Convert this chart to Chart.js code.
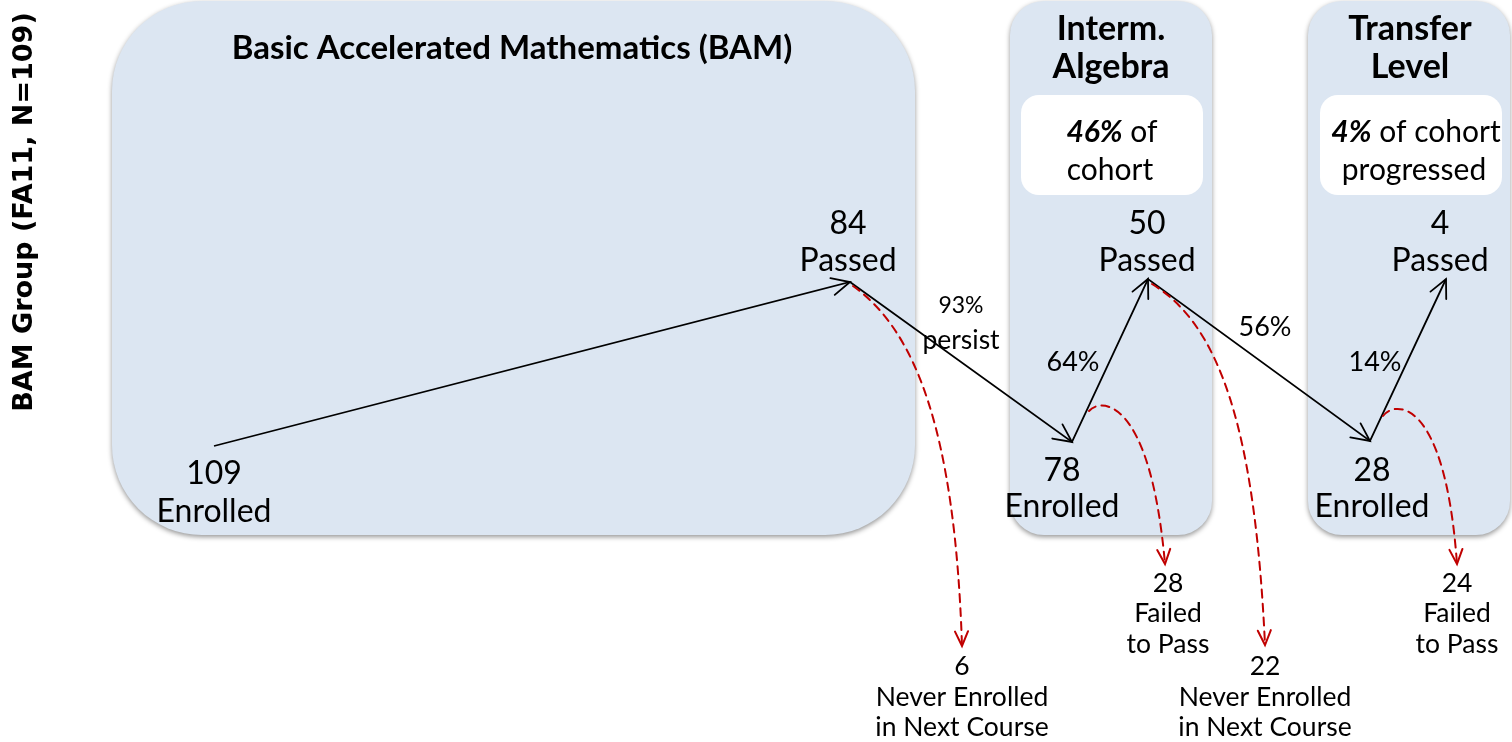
<!DOCTYPE html>
<html>
<head>
<meta charset="utf-8">
<script src="https://cdn.jsdelivr.net/npm/chart.js@4.4.1/dist/chart.umd.min.js"></script>
<style>
    html, body { margin: 0; padding: 0; background: #fff; }
</style>
</head>
<body>
<canvas id="flujo" width="1512" height="742"></canvas>
<script>
//DATOS DEL FLUJO DE LA COHORTE
var groupLabel = 'BAM Group (FA11, N=109)';
var stageTitles = [['Basic Accelerated Mathematics (BAM)'], ['Interm.', 'Algebra'], ['Transfer', 'Level']];
var enrolledCounts = [109, 78, 28];
var passedCounts = [84, 50, 4];
var passRates = ['', '64%', '14%'];
var persistRates = [['93%', 'persist'], ['56%']];
var neverEnrolledCounts = [6, 22];
var failedCounts = [28, 24];
var cohortShare = ['46%', '4%'];
var cohortText = [[' of', 'cohort'], [' of cohort', 'progressed']];

//POSICIONES (unidades de los ejes = pixeles del lienzo)
var enrolledXY = [[214, 446], [1072, 442], [1370, 441]];
var passedXY = [[850, 282], [1148, 279], [1446, 279]];
var stageBoxes = [[112, 1, 915, 535, 90], [1010, 1, 1212, 535, 34], [1308, 1, 1510, 535, 34]];
var cohortBoxes = [[1021, 95, 1203, 195, 18], [1320, 95, 1502, 195, 18]];
var dropCurves = [
    [[853, 286], [915, 330], [955, 430], [962, 646]],
    [[1152, 284], [1220, 325], [1255, 430], [1265, 645]],
    [[1089, 411], [1100, 398], [1150, 395], [1165, 564]],
    [[1383, 416], [1395, 400], [1445, 397], [1457, 564]]
];

var FONT = 'Lato, "Liberation Sans", sans-serif';

// puntos de la linea en zigzag: inscritos -> aprobados -> siguiente curso ...
var flowPoints = [];
enrolledXY.forEach(function (p, i) {
    flowPoints.push({ x: p[0], y: p[1] });
    flowPoints.push({ x: passedXY[i][0], y: passedXY[i][1] });
});

function roundRect(ctx, x0, y0, x1, y1, r) {
    ctx.beginPath();
    ctx.moveTo(x0 + r, y0);
    ctx.lineTo(x1 - r, y0);
    ctx.arcTo(x1, y0, x1, y0 + r, r);
    ctx.lineTo(x1, y1 - r);
    ctx.arcTo(x1, y1, x1 - r, y1, r);
    ctx.lineTo(x0 + r, y1);
    ctx.arcTo(x0, y1, x0, y1 - r, r);
    ctx.lineTo(x0, y0 + r);
    ctx.arcTo(x0, y0, x0 + r, y0, r);
    ctx.closePath();
}

function arrowHead(ctx, fromX, fromY, toX, toY, len, ang) {
    var a = Math.atan2(toY - fromY, toX - fromX);
    ctx.beginPath();
    ctx.moveTo(toX - len * Math.cos(a - ang), toY - len * Math.sin(a - ang));
    ctx.lineTo(toX, toY);
    ctx.lineTo(toX - len * Math.cos(a + ang), toY - len * Math.sin(a + ang));
    ctx.stroke();
}

function texto(ctx, str, x, y, font, align) {
    ctx.font = font;
    ctx.textAlign = align || 'center';
    ctx.textBaseline = 'middle';
    ctx.fillText(str, x, y);
}

var diagramaPlugin = {
    id: 'diagrama',
    beforeDatasetsDraw: function (chart) {
        var ctx = chart.ctx;
        var sx = chart.scales.x, sy = chart.scales.y;
        var px = function (v) { return sx.getPixelForValue(v); };
        var py = function (v) { return sy.getPixelForValue(v); };

        ctx.save();
        //cajas de las etapas con sombra
        stageBoxes.forEach(function (b) {
            ctx.save();
            ctx.shadowColor = 'rgba(0,0,0,0.42)';
            ctx.shadowBlur = 5;
            ctx.shadowOffsetX = 0;
            ctx.shadowOffsetY = 2;
            ctx.fillStyle = '#DCE6F2';
            roundRect(ctx, px(b[0]), py(b[1]), px(b[2]), py(b[3]), b[4]);
            ctx.fill();
            ctx.restore();
        });
        cohortBoxes.forEach(function (b) {
            ctx.fillStyle = '#ffffff';
            roundRect(ctx, px(b[0]), py(b[1]), px(b[2]), py(b[3]), b[4]);
            ctx.fill();
        });

        ctx.fillStyle = '#000';
        //titulos de las etapas
        texto(ctx, stageTitles[0][0], px(512), py(48), 'bold 33px ' + FONT);
        texto(ctx, stageTitles[1][0], px(1111), py(29), 'bold 34px ' + FONT);
        texto(ctx, stageTitles[1][1], px(1111), py(67), 'bold 34px ' + FONT);
        texto(ctx, stageTitles[2][0], px(1410), py(29), 'bold 34px ' + FONT);
        texto(ctx, stageTitles[2][1], px(1410), py(67), 'bold 34px ' + FONT);

        //porcentaje de la cohorte (parte en negrita cursiva)
        var centros = [1112, 1416];
        cohortShare.forEach(function (pct, i) {
            var fb = 'italic bold 30px ' + FONT;
            var fr = '30px ' + FONT;
            ctx.font = fb;
            var w1 = ctx.measureText(pct).width;
            ctx.font = fr;
            var w2 = ctx.measureText(cohortText[i][0]).width;
            var x0 = px(centros[i]) - (w1 + w2) / 2;
            texto(ctx, pct, x0, py(132), fb, 'left');
            texto(ctx, cohortText[i][0], x0 + w1, py(132), fr, 'left');
            texto(ctx, cohortText[i][1], px(centros[i] - 2), py(170), fr);
        });

        //etiqueta del grupo (vertical)
        ctx.save();
        ctx.translate(px(25), py(212));
        ctx.rotate(-Math.PI / 2);
        texto(ctx, groupLabel, 0, 0, 'bold 27px "DejaVu Sans", sans-serif');
        ctx.restore();
        ctx.restore();
    },
    afterDatasetsDraw: function (chart) {
        var ctx = chart.ctx;
        var sx = chart.scales.x, sy = chart.scales.y;
        var px = function (v) { return sx.getPixelForValue(v); };
        var py = function (v) { return sy.getPixelForValue(v); };
        var meta = chart.getDatasetMeta(0).data;

        ctx.save();
        //puntas de flecha del flujo principal
        ctx.strokeStyle = '#000';
        ctx.lineWidth = 1.8;
        ctx.lineCap = 'round';
        for (var i = 1; i < meta.length; i++) {
            arrowHead(ctx, meta[i - 1].x, meta[i - 1].y, meta[i].x, meta[i].y, 20, 0.45);
        }

        //curvas rojas punteadas (abandono / reprobados)
        ctx.strokeStyle = '#C00000';
        ctx.lineWidth = 2;
        dropCurves.forEach(function (c) {
            ctx.setLineDash([8, 6]);
            ctx.beginPath();
            ctx.moveTo(px(c[0][0]), py(c[0][1]));
            ctx.bezierCurveTo(px(c[1][0]), py(c[1][1]), px(c[2][0]), py(c[2][1]), px(c[3][0]), py(c[3][1]));
            ctx.stroke();
            ctx.setLineDash([]);
            arrowHead(ctx, px(c[2][0]), py(c[2][1]), px(c[3][0]), py(c[3][1]), 16, 0.42);
        });

        ctx.fillStyle = '#000';
        var f32 = '32px ' + FONT;
        //inscritos
        var enrolledLbl = [[214, 474, 512], [1062, 471, 507], [1372, 471, 507]];
        enrolledCounts.forEach(function (n, i) {
            var l = enrolledLbl[i];
            texto(ctx, String(n), px(l[0]), py(l[1]), f32);
            texto(ctx, 'Enrolled', px(l[0]), py(l[2]), f32);
        });
        //aprobados
        var passedLbl = [848, 1147, 1440];
        passedCounts.forEach(function (n, i) {
            texto(ctx, String(n), px(passedLbl[i]), py(224), f32);
            texto(ctx, 'Passed', px(passedLbl[i]), py(261), f32);
        });
        //tasas de aprobacion
        texto(ctx, passRates[1], px(1073), py(362), '27px ' + FONT);
        texto(ctx, passRates[2], px(1375), py(362), '27px ' + FONT);
        //persistencia
        texto(ctx, persistRates[0][0], px(961), py(306), '23px ' + FONT);
        texto(ctx, persistRates[0][1], px(961), py(340), '26.5px ' + FONT);
        texto(ctx, persistRates[1][0], px(1265), py(327), '27px ' + FONT);

        //nunca se inscribieron
        var f26 = '26.5px ' + FONT;
        var neverX = [962, 1265];
        neverEnrolledCounts.forEach(function (n, i) {
            texto(ctx, String(n), px(neverX[i]), py(666), f26);
            texto(ctx, 'Never Enrolled', px(neverX[i]), py(697), f26);
            texto(ctx, 'in Next Course', px(neverX[i]), py(727), f26);
        });
        //reprobados
        var failX = [1168, 1457];
        failedCounts.forEach(function (n, i) {
            texto(ctx, String(n), px(failX[i]), py(583), f26);
            texto(ctx, 'Failed', px(failX[i]), py(613), f26);
            texto(ctx, 'to Pass', px(failX[i]), py(644), f26);
        });
        ctx.restore();
    }
};

var ctx = document.getElementById('flujo').getContext('2d');
var myChart = new Chart(ctx, {
    type: 'scatter',
    data: {
        datasets: [{
            label: 'flujo',
            data: flowPoints,
            showLine: true,
            borderColor: '#000',
            borderWidth: 1.8,
            pointRadius: 0,
            fill: false,
            tension: 0
        }]
    },
    options: {
        responsive: false,
        animation: false,
        events: [],
        layout: { padding: 0 },
        plugins: {
            legend: { display: false },
            tooltip: { enabled: false }
        },
        scales: {
            x: { type: 'linear', min: 0, max: 1512, display: false },
            y: { type: 'linear', min: 0, max: 742, reverse: true, display: false }
        }
    },
    plugins: [diagramaPlugin]
});
</script>
</body>
</html>
